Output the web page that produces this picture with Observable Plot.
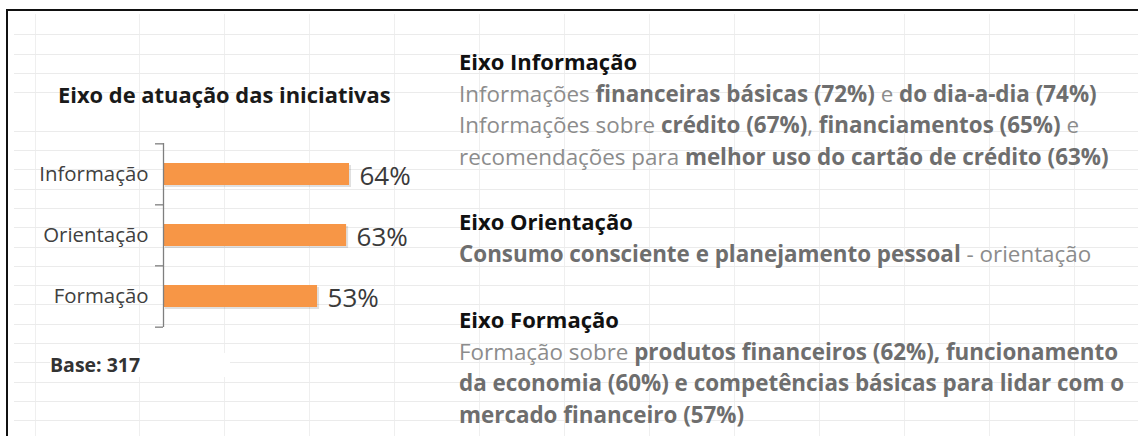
<!DOCTYPE html>
<html>
<head>
<meta charset="utf-8">
<script src="https://cdn.jsdelivr.net/npm/d3@7"></script>
<script src="https://cdn.jsdelivr.net/npm/@observablehq/plot@0.6"></script>
<style>
  html, body { margin: 0; padding: 0; background: #fff; }
  body { width: 1138px; height: 436px; position: relative; overflow: hidden; font-family: "Open Sans", Lato, sans-serif; }
  #grid { position: absolute; left: 14px; top: 14px; right: 0; bottom: 0;
    background-image:
      repeating-linear-gradient(to bottom, transparent 0 18.3px, #ebebeb 18.3px 19.3px),
      repeating-linear-gradient(to right, transparent 0 84px, #efefef 84px 85px);
    background-position: 0 2px, 41px 0; }
  #frame { position: absolute; left: 6px; top: 9px; right: -4px; bottom: -4px; border-top: 2px solid #111; border-left: 2px solid #111; }
  #title { position: absolute; left: 58px; top: 82px; font-weight: 700; font-size: 21.9px; line-height: 26px; color: #1a1a1a; white-space: nowrap; }
  #chart { position: absolute; left: 0; top: 130px; }
  #base { position: absolute; left: 50px; top: 353px; font-weight: 700; font-size: 19.5px; line-height: 24px; color: #333; padding-right: 90px; background: #fff; }
  .sec { position: absolute; left: 459px; font-size: 22.4px; line-height: 31.5px; color: #8c8c8c; white-space: nowrap; }
  .sec .h { color: #111; font-weight: 700; font-size: 22px; }
  .sec b { color: #6e6e6e; font-weight: 700; }
</style>
</head>
<body>
<div id="grid"></div>
<div id="frame"></div>
<div id="title"></div>
<div id="chart"></div>
<div id="base"></div>
<div class="sec" id="s1"></div>
<div class="sec" id="s2"></div>
<div class="sec" id="s3"></div>
<script>
// Data
const categories = ["Informação", "Orientação", "Formação"];
const values = [64, 63, 53];
const baseCount = 317;
const chartTitle = "Eixo de atuação das iniciativas";

const sections = [
  {id: "s1", top: 46, heading: "Eixo Informação", lines: [
    [["Informações ", 0], ["financeiras básicas (72%)", 1], [" e ", 0], ["do dia-a-dia (74%)", 1]],
    [["Informações sobre ", 0], ["crédito (67%)", 1], [", ", 0], ["financiamentos (65%)", 1], [" e", 0]],
    [["recomendações para ", 0], ["melhor uso do cartão de crédito (63%)", 1]]
  ]},
  {id: "s2", top: 206, heading: "Eixo Orientação", lines: [
    [["Consumo consciente e planejamento pessoal", 1], [" - orientação", 0]]
  ]},
  {id: "s3", top: 304, heading: "Eixo Formação", lines: [
    [["Formação sobre ", 0], ["produtos financeiros (62%), funcionamento", 1]],
    [["da economia (60%) e competências básicas para lidar com o", 1]],
    [["mercado financeiro (57%)", 1]]
  ]}
];

const data = categories.map((c, i) => ({category: c, value: values[i]}));

document.getElementById("title").textContent = chartTitle;
document.getElementById("base").textContent = `Base: ${baseCount}`;

for (const s of sections) {
  const el = document.getElementById(s.id);
  el.style.top = s.top + "px";
  const h = document.createElement("div");
  h.className = "h";
  h.textContent = s.heading;
  el.appendChild(h);
  for (const line of s.lines) {
    const d = document.createElement("div");
    for (const [t, bold] of line) {
      const sp = document.createElement(bold ? "b" : "span");
      sp.textContent = t;
      d.appendChild(sp);
    }
    el.appendChild(d);
  }
}

// Chart
const W = 440, H = 230, mT = 13, mB = 33, mL = 163, mR = 44.5;
const step = (H - mT - mB) / categories.length;

const chart = Plot.plot({
  width: W, height: H,
  marginTop: mT, marginBottom: mB, marginLeft: mL, marginRight: mR,
  style: {fontFamily: "'Open Sans', Lato, sans-serif", background: "transparent", overflow: "visible"},
  x: {domain: [0, 80], axis: null},
  y: {domain: categories, paddingInner: 0.64, paddingOuter: 0.32, axis: null},
  marks: [
    // shadow
    Plot.barX(data, {y: "category", x: "value", fill: "#000", fillOpacity: 0.12, dx: 2, dy: 2}),
    Plot.barX(data, {y: "category", x: "value", fill: "#f79646"}),
    Plot.ruleX([0], {stroke: "#7f7f7f", strokeWidth: 1.3}),
    // category labels
    Plot.axisY({tickSize: 0, tickPadding: 15, fontSize: 20.4, color: "#404040", label: null}),
    // boundary ticks
    Plot.axisY({tickSize: 8, tickFormat: () => "", dy: -step / 2, stroke: "#7f7f7f", strokeWidth: 1.3, label: null}),
    Plot.axisY({ticks: [categories[categories.length - 1]], tickSize: 8, tickFormat: () => "", dy: step / 2, stroke: "#7f7f7f", strokeWidth: 1.3, label: null}),
    Plot.text(data, {y: "category", x: "value", text: d => `${d.value}%`, textAnchor: "start", dx: 10, dy: 2, fontSize: 26, fill: "#3a3a3a"})
  ]
});
document.getElementById("chart").appendChild(chart);
</script>
</body>
</html>
